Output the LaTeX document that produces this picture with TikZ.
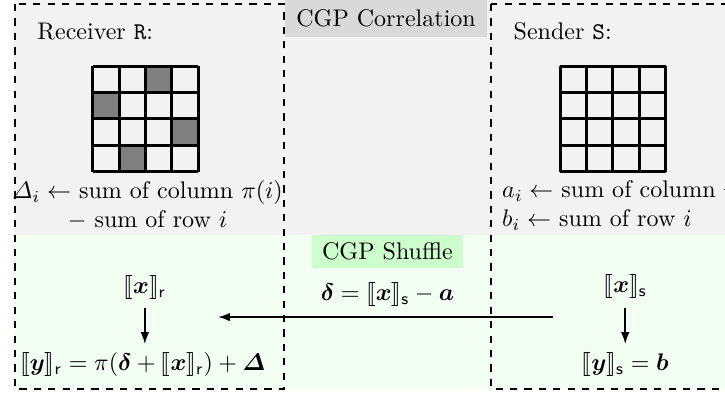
\documentclass[tikz,border=0pt]{standalone}
\usepackage{amsmath}
\usepackage{amssymb}
\usepackage{stmaryrd}
\usepackage{xcolor}
\usepackage{tikz}
\usetikzlibrary{arrows.meta}

\begin{document}
\begin{tikzpicture}[>={Latex[length=5pt,width=3.6pt]}, semithick,
    partybox/.style={dashed, thick},
    tagbox/.style={inner sep=0pt}]
			\clip (0,0) rectangle (10.61,5.75);
			\fill[gray!10] (0.22,5.75) rectangle (10.61,2.31);
			\fill[green!5] (0.22,2.31) rectangle (10.61,0.06);
			\node[tagbox, fill=gray!30, minimum width=2.96cm, minimum height=0.54cm] (corr) at (5.65,5.48) {CGP Correlation};
			\node[tagbox, fill=green!20, minimum width=2.21cm, minimum height=0.47cm] (shuf) at (5.67,2.07) {CGP Shuffle};
			\draw[partybox] (0.22,5.69) rectangle (4.16,0.06);
			\draw[partybox] (7.19,5.69) rectangle (11.2,0.06);
			\node[anchor=west] (recv) at (0.42,5.29) {Receiver \texttt{R}:};
			\node[anchor=west] (send) at (7.39,5.29) {Sender \texttt{S}:};
			\begin{scope}[shift={(1.36,3.24)}]
				\foreach \i/\j in {2/3,0/2,3/1,1/0}
					\fill[gray] (\i*0.385,\j*0.385) rectangle ++(0.385,0.385);
				\draw[line width=1.2pt, step=0.385] (0,0) grid (1.54,1.54);
			\end{scope}
			\begin{scope}[shift={(8.20,3.24)}]
				\draw[line width=1.2pt, step=0.385] (0,0) grid (1.54,1.54);
			\end{scope}
			\node[align=center] (rsum) at (2.16,2.75) {$\varDelta_i \leftarrow$ sum of column $\pi(i)$\\ $-$ sum of row $i$};
			\node[align=left, anchor=west] (ssum) at (7.22,2.75) {$a_i \leftarrow$ sum of column $\pi(i)$\\ $b_i \leftarrow$ sum of row $i$};
			\node (xr) at (2.12,1.54) {$\llbracket \boldsymbol{x} \rrbracket_{\mathsf{r}}$};
			\node (yr) at (2.09,0.41) {$\llbracket \boldsymbol{y} \rrbracket_{\mathsf{r}} = \pi(\boldsymbol{\delta} + \llbracket \boldsymbol{x} \rrbracket_{\mathsf{r}}) + \boldsymbol{\varDelta}$};
			\node (dx) at (5.67,1.44) {$\boldsymbol{\delta} = \llbracket \boldsymbol{x} \rrbracket_{\mathsf{s}} - \boldsymbol{a}$};
			\node (xs) at (9.15,1.55) {$\llbracket \boldsymbol{x} \rrbracket_{\mathsf{s}}$};
			\node (ys) at (9.15,0.41) {$\llbracket \boldsymbol{y} \rrbracket_{\mathsf{s}} = \boldsymbol{b}$};
			\coordinate (hs) at (8.10,1.11);
			\coordinate (he) at (3.19,1.11);
			\draw[->, thick] (xr) -- (xr |- yr.north);
			\draw[->, thick] (xs) -- (xs |- ys.north);
			\draw[->, thick] (hs) -- (he);
		\end{tikzpicture}
\end{document}
